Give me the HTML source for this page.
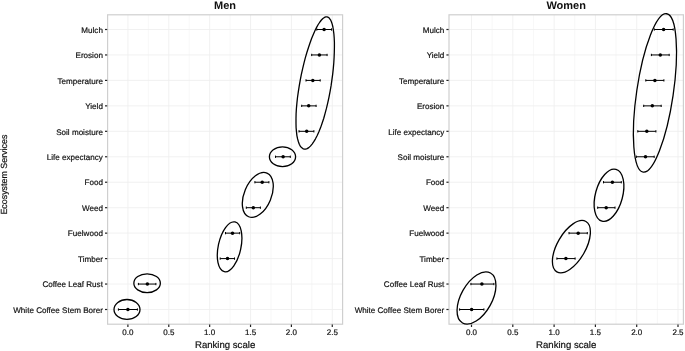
<!DOCTYPE html>
<html lang="en"><head><meta charset="utf-8"><title>Ranking of ecosystem services</title>
<style>html,body{margin:0;padding:0;background:#fff}svg{display:block;will-change:transform}text{text-rendering:geometricPrecision}</style></head>
<body>
<svg width="685" height="351" viewBox="0 0 685 351" font-family="Liberation Sans, Arial, Helvetica, sans-serif">
<rect width="685" height="351" fill="#fff"/>
<g>
<g stroke="#efefef" stroke-width="0.5">
<line x1="148.34" y1="14.8" x2="148.34" y2="324.2"/>
<line x1="189.21" y1="14.8" x2="189.21" y2="324.2"/>
<line x1="230.09" y1="14.8" x2="230.09" y2="324.2"/>
<line x1="270.96" y1="14.8" x2="270.96" y2="324.2"/>
<line x1="311.84" y1="14.8" x2="311.84" y2="324.2"/>
</g>
<g stroke="#efefef" stroke-width="0.85">
<line x1="127.90" y1="14.8" x2="127.90" y2="324.2"/>
<line x1="168.78" y1="14.8" x2="168.78" y2="324.2"/>
<line x1="209.65" y1="14.8" x2="209.65" y2="324.2"/>
<line x1="250.53" y1="14.8" x2="250.53" y2="324.2"/>
<line x1="291.40" y1="14.8" x2="291.40" y2="324.2"/>
<line x1="332.27" y1="14.8" x2="332.27" y2="324.2"/>
<line x1="107.6" y1="29.50" x2="342.6" y2="29.50"/>
<line x1="107.6" y1="54.95" x2="342.6" y2="54.95"/>
<line x1="107.6" y1="80.41" x2="342.6" y2="80.41"/>
<line x1="107.6" y1="105.86" x2="342.6" y2="105.86"/>
<line x1="107.6" y1="131.32" x2="342.6" y2="131.32"/>
<line x1="107.6" y1="156.77" x2="342.6" y2="156.77"/>
<line x1="107.6" y1="182.23" x2="342.6" y2="182.23"/>
<line x1="107.6" y1="207.69" x2="342.6" y2="207.69"/>
<line x1="107.6" y1="233.14" x2="342.6" y2="233.14"/>
<line x1="107.6" y1="258.59" x2="342.6" y2="258.59"/>
<line x1="107.6" y1="284.05" x2="342.6" y2="284.05"/>
<line x1="107.6" y1="309.50" x2="342.6" y2="309.50"/>
</g>
<rect x="107.6" y="14.8" width="235.00" height="309.40" fill="none" stroke="#cfcfcf" stroke-width="1.2"/>
<g stroke="#222" stroke-width="1.2">
<line x1="127.90" y1="324.59999999999997" x2="127.90" y2="327.0"/>
<line x1="168.78" y1="324.59999999999997" x2="168.78" y2="327.0"/>
<line x1="209.65" y1="324.59999999999997" x2="209.65" y2="327.0"/>
<line x1="250.53" y1="324.59999999999997" x2="250.53" y2="327.0"/>
<line x1="291.40" y1="324.59999999999997" x2="291.40" y2="327.0"/>
<line x1="332.27" y1="324.59999999999997" x2="332.27" y2="327.0"/>
<line x1="105.00" y1="29.50" x2="107.20" y2="29.50"/>
<line x1="105.00" y1="54.95" x2="107.20" y2="54.95"/>
<line x1="105.00" y1="80.41" x2="107.20" y2="80.41"/>
<line x1="105.00" y1="105.86" x2="107.20" y2="105.86"/>
<line x1="105.00" y1="131.32" x2="107.20" y2="131.32"/>
<line x1="105.00" y1="156.77" x2="107.20" y2="156.77"/>
<line x1="105.00" y1="182.23" x2="107.20" y2="182.23"/>
<line x1="105.00" y1="207.69" x2="107.20" y2="207.69"/>
<line x1="105.00" y1="233.14" x2="107.20" y2="233.14"/>
<line x1="105.00" y1="258.59" x2="107.20" y2="258.59"/>
<line x1="105.00" y1="284.05" x2="107.20" y2="284.05"/>
<line x1="105.00" y1="309.50" x2="107.20" y2="309.50"/>
</g>
<g fill="#111" stroke="#111" stroke-width="0.2" font-size="8" text-anchor="middle">
<text x="127.90" y="335.4">0.0</text>
<text x="168.78" y="335.4">0.5</text>
<text x="209.65" y="335.4">1.0</text>
<text x="250.53" y="335.4">1.5</text>
<text x="291.40" y="335.4">2.0</text>
<text x="332.27" y="335.4">2.5</text>
</g>
<g fill="#111" stroke="#111" stroke-width="0.2" font-size="8.08" text-anchor="end">
<text x="102.90" y="32.70">Mulch</text>
<text x="102.90" y="58.16">Erosion</text>
<text x="102.90" y="83.61">Temperature</text>
<text x="102.90" y="109.06">Yield</text>
<text x="102.90" y="134.52">Soil moisture</text>
<text x="102.90" y="159.97">Life expectancy</text>
<text x="102.90" y="185.43">Food</text>
<text x="102.90" y="210.88">Weed</text>
<text x="102.90" y="236.34">Fuelwood</text>
<text x="102.90" y="261.79">Timber</text>
<text x="102.90" y="287.25">Coffee Leaf Rust</text>
<text x="102.90" y="312.70">White Coffee Stem Borer</text>
</g>
<text x="225.10" y="8.6" font-size="11" font-weight="bold" text-anchor="middle" fill="#111">Men</text>
<text x="225.10" y="348.3" font-size="9.6" text-anchor="middle" fill="#111" stroke="#111" stroke-width="0.2">Ranking scale</text>
<g stroke="#000" stroke-width="1" fill="#000">
<path d="M316.80 29.50H331.50M316.80 28.35v2.3M331.50 28.35v2.3" fill="none"/>
<circle cx="324.10" cy="29.50" r="1.75" stroke="none"/>
<path d="M311.70 54.95H327.10M311.70 53.80v2.3M327.10 53.80v2.3" fill="none"/>
<circle cx="319.40" cy="54.95" r="1.75" stroke="none"/>
<path d="M306.00 80.41H320.20M306.00 79.26v2.3M320.20 79.26v2.3" fill="none"/>
<circle cx="312.80" cy="80.41" r="1.75" stroke="none"/>
<path d="M301.70 105.86H316.10M301.70 104.71v2.3M316.10 104.71v2.3" fill="none"/>
<circle cx="308.70" cy="105.86" r="1.75" stroke="none"/>
<path d="M299.00 131.32H313.90M299.00 130.17v2.3M313.90 130.17v2.3" fill="none"/>
<circle cx="306.70" cy="131.32" r="1.75" stroke="none"/>
<path d="M275.50 156.77H290.30M275.50 155.62v2.3M290.30 155.62v2.3" fill="none"/>
<circle cx="283.10" cy="156.77" r="1.75" stroke="none"/>
<path d="M254.90 182.23H268.90M254.90 181.08v2.3M268.90 181.08v2.3" fill="none"/>
<circle cx="262.20" cy="182.23" r="1.75" stroke="none"/>
<path d="M246.30 207.69H260.40M246.30 206.53v2.3M260.40 206.53v2.3" fill="none"/>
<circle cx="253.30" cy="207.69" r="1.75" stroke="none"/>
<path d="M225.50 233.14H239.70M225.50 231.99v2.3M239.70 231.99v2.3" fill="none"/>
<circle cx="232.50" cy="233.14" r="1.75" stroke="none"/>
<path d="M220.20 258.59H234.50M220.20 257.44v2.3M234.50 257.44v2.3" fill="none"/>
<circle cx="227.50" cy="258.59" r="1.75" stroke="none"/>
<path d="M138.40 284.05H155.90M138.40 282.90v2.3M155.90 282.90v2.3" fill="none"/>
<circle cx="147.35" cy="284.05" r="1.75" stroke="none"/>
<path d="M118.40 309.50H137.40M118.40 308.36v2.3M137.40 308.36v2.3" fill="none"/>
<circle cx="127.90" cy="309.50" r="1.75" stroke="none"/>
</g>
<g stroke="#000" stroke-width="1.3" fill="none">
<path d="M331.1 85.7L330.1 91.4L329.0 97.1L327.8 102.7L326.5 108.2L325.1 113.4L323.7 118.5L322.1 123.2L320.6 127.6L318.9 131.7L317.2 135.5L315.5 138.8L313.8 141.7L312.1 144.1L310.4 146.1L308.8 147.6L307.2 148.6L305.6 149.1L304.2 149.1L302.8 148.6L301.5 147.6L300.3 146.1L299.3 144.2L298.4 141.7L297.6 138.9L296.9 135.6L296.5 131.9L296.1 127.8L296.0 123.4L296.0 118.7L296.1 113.7L296.4 108.5L296.9 103.1L297.5 97.5L298.3 91.8L299.2 86.1L300.2 80.3L301.3 74.6L302.6 68.9L303.9 63.3L305.3 57.9L306.8 52.7L308.4 47.7L310.0 43.0L311.6 38.5L313.3 34.4L314.9 30.7L316.6 27.4L318.2 24.5L319.9 22.0L321.4 20.0L322.9 18.5L324.4 17.4L325.8 16.9L327.1 16.9L328.3 17.3L329.4 18.3L330.5 19.8L331.4 21.7L332.2 24.1L332.9 27.0L333.4 30.3L333.9 34.0L334.2 38.0L334.4 42.5L334.4 47.2L334.3 52.2L334.1 57.4L333.8 62.8L333.3 68.4L332.7 74.1L331.9 79.9Z" stroke-linejoin="round"/>
<ellipse cx="0" cy="0" rx="9.9" ry="13.1" transform="translate(282.5 156.7) rotate(90)"/>
<ellipse cx="0" cy="0" rx="13.55" ry="23.7" transform="translate(257.8 194.9) rotate(22.7)"/>
<ellipse cx="0" cy="0" rx="11.34" ry="25.45" transform="translate(229.6 246.8) rotate(12.1)"/>
<ellipse cx="0" cy="0" rx="9.4" ry="13.25" transform="translate(147.1 283.2) rotate(90)"/>
<ellipse cx="0" cy="0" rx="9.9" ry="13.0" transform="translate(127.0 309.4) rotate(90)"/>
</g>
</g>
<g>
<g stroke="#efefef" stroke-width="0.5">
<line x1="492.15" y1="14.8" x2="492.15" y2="324.2"/>
<line x1="533.45" y1="14.8" x2="533.45" y2="324.2"/>
<line x1="574.75" y1="14.8" x2="574.75" y2="324.2"/>
<line x1="616.05" y1="14.8" x2="616.05" y2="324.2"/>
<line x1="657.35" y1="14.8" x2="657.35" y2="324.2"/>
</g>
<g stroke="#efefef" stroke-width="0.85">
<line x1="471.50" y1="14.8" x2="471.50" y2="324.2"/>
<line x1="512.80" y1="14.8" x2="512.80" y2="324.2"/>
<line x1="554.10" y1="14.8" x2="554.10" y2="324.2"/>
<line x1="595.40" y1="14.8" x2="595.40" y2="324.2"/>
<line x1="636.70" y1="14.8" x2="636.70" y2="324.2"/>
<line x1="678.00" y1="14.8" x2="678.00" y2="324.2"/>
<line x1="449.0" y1="29.50" x2="683.4" y2="29.50"/>
<line x1="449.0" y1="54.95" x2="683.4" y2="54.95"/>
<line x1="449.0" y1="80.41" x2="683.4" y2="80.41"/>
<line x1="449.0" y1="105.86" x2="683.4" y2="105.86"/>
<line x1="449.0" y1="131.32" x2="683.4" y2="131.32"/>
<line x1="449.0" y1="156.77" x2="683.4" y2="156.77"/>
<line x1="449.0" y1="182.23" x2="683.4" y2="182.23"/>
<line x1="449.0" y1="207.69" x2="683.4" y2="207.69"/>
<line x1="449.0" y1="233.14" x2="683.4" y2="233.14"/>
<line x1="449.0" y1="258.59" x2="683.4" y2="258.59"/>
<line x1="449.0" y1="284.05" x2="683.4" y2="284.05"/>
<line x1="449.0" y1="309.50" x2="683.4" y2="309.50"/>
</g>
<rect x="449.0" y="14.8" width="234.40" height="309.40" fill="none" stroke="#cfcfcf" stroke-width="1.2"/>
<g stroke="#222" stroke-width="1.2">
<line x1="471.50" y1="324.59999999999997" x2="471.50" y2="327.0"/>
<line x1="512.80" y1="324.59999999999997" x2="512.80" y2="327.0"/>
<line x1="554.10" y1="324.59999999999997" x2="554.10" y2="327.0"/>
<line x1="595.40" y1="324.59999999999997" x2="595.40" y2="327.0"/>
<line x1="636.70" y1="324.59999999999997" x2="636.70" y2="327.0"/>
<line x1="678.00" y1="324.59999999999997" x2="678.00" y2="327.0"/>
<line x1="446.40" y1="29.50" x2="448.60" y2="29.50"/>
<line x1="446.40" y1="54.95" x2="448.60" y2="54.95"/>
<line x1="446.40" y1="80.41" x2="448.60" y2="80.41"/>
<line x1="446.40" y1="105.86" x2="448.60" y2="105.86"/>
<line x1="446.40" y1="131.32" x2="448.60" y2="131.32"/>
<line x1="446.40" y1="156.77" x2="448.60" y2="156.77"/>
<line x1="446.40" y1="182.23" x2="448.60" y2="182.23"/>
<line x1="446.40" y1="207.69" x2="448.60" y2="207.69"/>
<line x1="446.40" y1="233.14" x2="448.60" y2="233.14"/>
<line x1="446.40" y1="258.59" x2="448.60" y2="258.59"/>
<line x1="446.40" y1="284.05" x2="448.60" y2="284.05"/>
<line x1="446.40" y1="309.50" x2="448.60" y2="309.50"/>
</g>
<g fill="#111" stroke="#111" stroke-width="0.2" font-size="8" text-anchor="middle">
<text x="471.50" y="335.4">0.0</text>
<text x="512.80" y="335.4">0.5</text>
<text x="554.10" y="335.4">1.0</text>
<text x="595.40" y="335.4">1.5</text>
<text x="636.70" y="335.4">2.0</text>
<text x="678.00" y="335.4">2.5</text>
</g>
<g fill="#111" stroke="#111" stroke-width="0.2" font-size="8.08" text-anchor="end">
<text x="444.30" y="32.70">Mulch</text>
<text x="444.30" y="58.16">Yield</text>
<text x="444.30" y="83.61">Temperature</text>
<text x="444.30" y="109.06">Erosion</text>
<text x="444.30" y="134.52">Life expectancy</text>
<text x="444.30" y="159.97">Soil moisture</text>
<text x="444.30" y="185.43">Food</text>
<text x="444.30" y="210.88">Weed</text>
<text x="444.30" y="236.34">Fuelwood</text>
<text x="444.30" y="261.79">Timber</text>
<text x="444.30" y="287.25">Coffee Leaf Rust</text>
<text x="444.30" y="312.70">White Coffee Stem Borer</text>
</g>
<text x="566.20" y="8.6" font-size="11" font-weight="bold" text-anchor="middle" fill="#111">Women</text>
<text x="566.20" y="348.3" font-size="9.6" text-anchor="middle" fill="#111" stroke="#111" stroke-width="0.2">Ranking scale</text>
<g stroke="#000" stroke-width="1" fill="#000">
<path d="M654.30 29.50H673.20M654.30 28.35v2.3M673.20 28.35v2.3" fill="none"/>
<circle cx="663.60" cy="29.50" r="1.75" stroke="none"/>
<path d="M651.40 54.95H669.20M651.40 53.80v2.3M669.20 53.80v2.3" fill="none"/>
<circle cx="660.30" cy="54.95" r="1.75" stroke="none"/>
<path d="M645.80 80.41H663.90M645.80 79.26v2.3M663.90 79.26v2.3" fill="none"/>
<circle cx="654.90" cy="80.41" r="1.75" stroke="none"/>
<path d="M643.70 105.86H661.20M643.70 104.71v2.3M661.20 104.71v2.3" fill="none"/>
<circle cx="652.30" cy="105.86" r="1.75" stroke="none"/>
<path d="M637.80 131.32H655.90M637.80 130.17v2.3M655.90 130.17v2.3" fill="none"/>
<circle cx="646.80" cy="131.32" r="1.75" stroke="none"/>
<path d="M636.40 156.77H654.20M636.40 155.62v2.3M654.20 155.62v2.3" fill="none"/>
<circle cx="645.50" cy="156.77" r="1.75" stroke="none"/>
<path d="M603.50 182.23H621.30M603.50 181.08v2.3M621.30 181.08v2.3" fill="none"/>
<circle cx="612.40" cy="182.23" r="1.75" stroke="none"/>
<path d="M597.70 207.69H615.00M597.70 206.53v2.3M615.00 206.53v2.3" fill="none"/>
<circle cx="606.20" cy="207.69" r="1.75" stroke="none"/>
<path d="M569.00 233.14H587.30M569.00 231.99v2.3M587.30 231.99v2.3" fill="none"/>
<circle cx="578.20" cy="233.14" r="1.75" stroke="none"/>
<path d="M556.90 258.59H575.10M556.90 257.44v2.3M575.10 257.44v2.3" fill="none"/>
<circle cx="565.90" cy="258.59" r="1.75" stroke="none"/>
<path d="M470.90 284.05H493.90M470.90 282.90v2.3M493.90 282.90v2.3" fill="none"/>
<circle cx="481.90" cy="284.05" r="1.75" stroke="none"/>
<path d="M459.60 309.50H483.90M459.60 308.36v2.3M483.90 308.36v2.3" fill="none"/>
<circle cx="471.60" cy="309.50" r="1.75" stroke="none"/>
</g>
<g stroke="#000" stroke-width="1.3" fill="none">
<ellipse cx="0" cy="0" rx="18.3" ry="80.05" transform="translate(654.95 92.95) rotate(8.43)"/>
<ellipse cx="0" cy="0" rx="13.6" ry="26.8" transform="translate(609.0 195.25) rotate(15.1)"/>
<ellipse cx="0" cy="0" rx="14.12" ry="29.08" transform="translate(571.4 246.65) rotate(30.0)"/>
<ellipse cx="0" cy="0" rx="15.5" ry="28.65" transform="translate(476.5 298.0) rotate(29.2)"/>
</g>
</g>
<text transform="translate(6.8 174.6) rotate(-90)" font-size="8.9" text-anchor="middle" fill="#111" stroke="#111" stroke-width="0.2">Ecosystem Services</text>
</svg>
</body></html>
